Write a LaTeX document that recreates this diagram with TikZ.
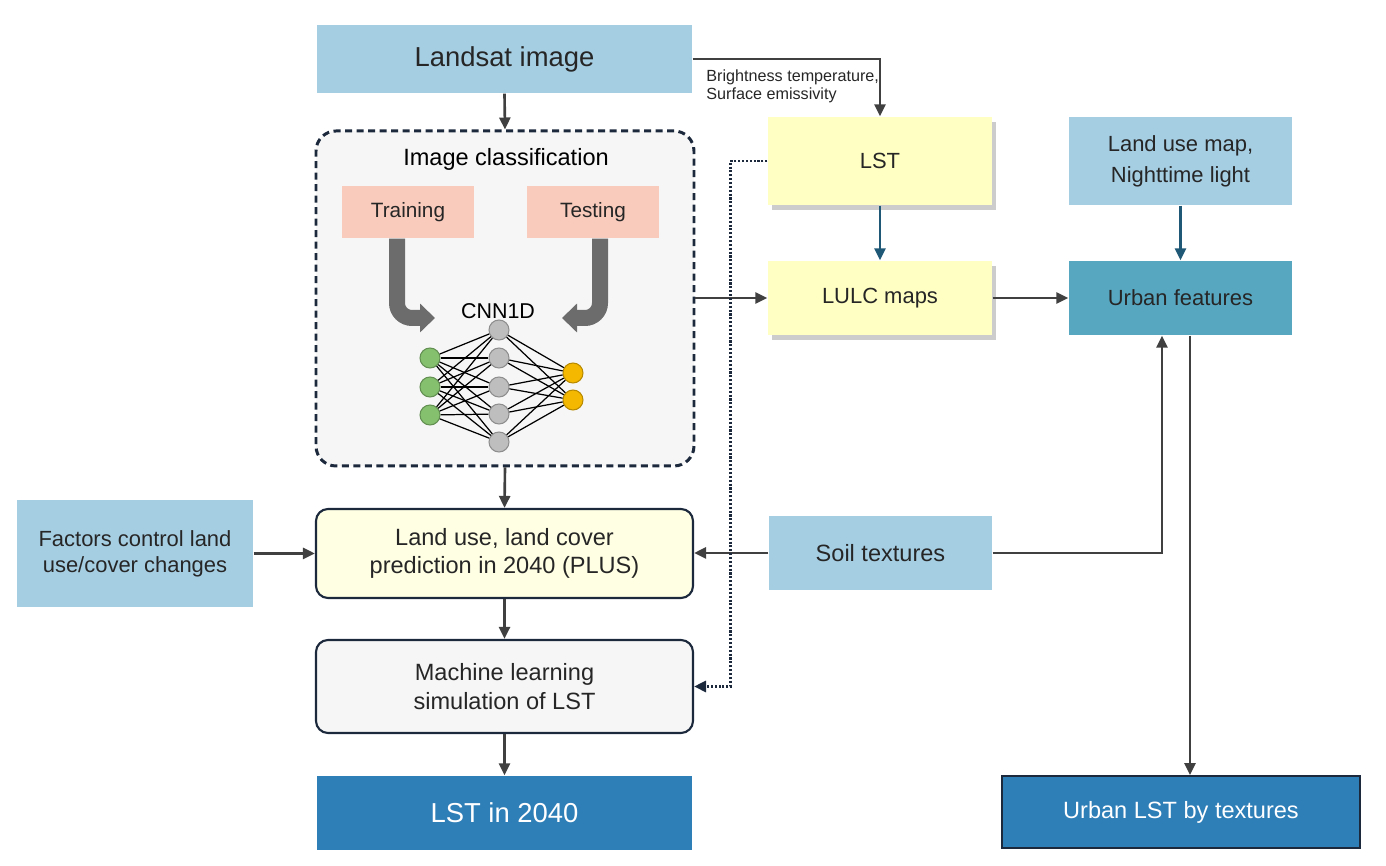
\documentclass[tikz,border=0pt]{standalone}
\usepackage{fontspec}
\setmainfont{Liberation Sans}
\usepackage{xcolor}
\usetikzlibrary{arrows.meta,shadows}
\definecolor{skyblue}{RGB}{166,206,227}
\definecolor{salmon}{RGB}{248,203,188}
\definecolor{paleyellow}{RGB}{255,255,196}
\definecolor{creamy}{RGB}{255,255,228}
\definecolor{panelgray}{RGB}{246,246,246}
\definecolor{tealbox}{RGB}{88,167,192}
\definecolor{deepblue}{RGB}{46,126,184}
\definecolor{arrowgray}{RGB}{64,64,64}
\definecolor{tealarrow}{RGB}{30,88,118}
\definecolor{navy}{RGB}{28,40,60}
\definecolor{neurongreen}{RGB}{132,192,110}
\definecolor{neurongray}{RGB}{190,190,190}
\definecolor{neuronorange}{RGB}{245,184,0}

\newcommand{\bigtxt}{\fontsize{7.8}{9.4}\selectfont}
\newcommand{\normtxt}{\fontsize{6.7}{8.2}\selectfont}
\newcommand{\sidetxt}{\fontsize{6.25}{8.8}\selectfont}
\newcommand{\factxt}{\fontsize{6.25}{7.4}\selectfont}
\newcommand{\labtxt}{\fontsize{5.9}{7}\selectfont}
\newcommand{\tinytxt}{\fontsize{4.6}{5.2}\selectfont}

\tikzset{
  box/.style={rectangle, inner sep=0pt, align=center, font=\normtxt, text=black!85},
  flatbox/.style={box, fill=#1},
  roundbox/.style={box, rounded corners=1.2mm, draw=navy, line width=0.6pt, fill=#1},
  shade box/.style={drop shadow={shadow xshift=0.4mm, shadow yshift=-0.5mm, fill=black, opacity=0.2}},
  arr/.style={-{Triangle[length=1.2mm,width=1.1mm]}, line width=0.75pt, draw=arrowgray},
  tealarr/.style={arr, draw=tealarrow},
  dotarr/.style={-{Triangle[length=1.2mm,width=1.1mm]}, line width=0.8pt, draw=navy, dash pattern=on 0.6pt off 0.5pt},
  bigarr/.style={-{Triangle[length=1.5mm,width=2.8mm]}, line width=1.6mm, draw=gray!85!black, rounded corners=1.5mm},
  neuron/.style={circle, minimum size=2mm, inner sep=0pt, fill=#1, draw=#1!75!black, line width=0.3pt},
}

\begin{document}
\begin{tikzpicture}[x=0.1mm, y=-0.1mm]
    \useasboundingbox (0,0) rectangle (1386,866);

    % Input image
    \node[flatbox=skyblue, minimum width=37.5mm, minimum height=6.8mm, font=\bigtxt] (land) at (504.5,59) {Landsat image};

    % Classification panel
    \node[draw=navy, dash pattern=on 0.7mm off 0.45mm, line width=0.85pt, rounded corners=2mm,
          fill=panelgray, minimum width=37.8mm, minimum height=33.5mm] (cls) at (505,298.5) {};
    \node[font=\normtxt] (clstitle) at (506,159) {Image classification};
    \node[flatbox=salmon, font=\labtxt, minimum width=13.2mm, minimum height=5.2mm] (train) at (408,212) {Training};
    \node[flatbox=salmon, font=\labtxt, minimum width=13.2mm, minimum height=5.2mm] (test) at (593,212) {Testing};
    \node[font=\fontsize{6.1}{7}\selectfont] (cnn) at (498,311) {CNN1D};

    % Network
    \foreach \i/\y in {1/358,2/387,3/415}
        \node[neuron=neurongreen] (in\i) at (430,\y) {};
    \foreach \i/\y in {1/330,2/358,3/387,4/414,5/442}
        \node[neuron=neurongray] (hd\i) at (499,\y) {};
    \foreach \i/\y in {1/373,2/400}
        \node[neuron=neuronorange] (out\i) at (573,\y) {};
    \foreach \i in {1,...,3}
        \foreach \j in {1,...,5}
            \draw[line width=0.35pt] (in\i) -- (hd\j);
    \foreach \j in {1,...,5}
        \foreach \k in {1,2}
            \draw[line width=0.35pt] (hd\j) -- (out\k);

    % Thick arrows into the network
    \coordinate (trainin) at (435,318);
    \coordinate (testin) at (562,318);
    \draw[bigarr] ([xshift=-1.1mm]train.south) |- (trainin);
    \draw[bigarr] ([xshift=0.7mm]test.south) |- (testin);

    % Right column
    \node[flatbox=paleyellow, shade box, font=\sidetxt, minimum width=22.4mm, minimum height=8.8mm] (lst) at (880,161) {LST};
    \node[flatbox=paleyellow, shade box, font=\sidetxt, minimum width=22.4mm, minimum height=7.4mm] (lulc) at (880,298) {LULC maps};
    \node[flatbox=skyblue, font=\sidetxt, minimum width=22.3mm, minimum height=8.8mm] (lum) at (1180.5,161) {Land use map,\\Nighttime light};
    \node[flatbox=tealbox, font=\sidetxt, minimum width=22.3mm, minimum height=7.4mm] (urban) at (1180.5,298) {Urban features};
    \node[flatbox=skyblue, minimum width=22.3mm, minimum height=7.4mm] (soil) at (880.5,553) {Soil textures};

    % Prediction chain
    \node[flatbox=skyblue, font=\factxt, minimum width=23.6mm, minimum height=10.7mm] (fac) at (135,553.5) {Factors control land\\use/cover changes};
    \node[roundbox=creamy, minimum width=37.7mm, minimum height=8.9mm] (pred) at (504.5,553.5) {Land use, land cover\\prediction in 2040 (PLUS)};
    \node[roundbox=panelgray, minimum width=37.7mm, minimum height=9.3mm] (ml) at (504.5,686.5) {Machine learning\\simulation of LST};

    % Outputs
    \node[flatbox=deepblue, text=white, font=\bigtxt, minimum width=37.5mm, minimum height=7.4mm] (lst40) at (504.5,813) {LST in 2040};
    \node[flatbox=deepblue, draw=navy, line width=0.5pt, text=white, minimum width=35.8mm, minimum height=7.2mm] (ulst) at (1181,812) {Urban LST by textures};

    % Connectors
    \draw[arr] (land.south) -- (cls.north);
    \draw[arr] (land.east) -| (lst.north);
    \node[anchor=west, align=left, font=\tinytxt, text=black!85] (btlabel) at (694,86) {Brightness temperature,\\Surface emissivity};
    \draw[tealarr] (lst.south) -- (lulc.north);
    \draw[tealarr] (lum.south) -- (urban.north);
    \draw[arr] (cls.east |- lulc) -- (lulc.west);
    \draw[arr] (lulc.east) -- (urban.west);
    \draw[arr] (soil.east) -| ([xshift=-1.85mm]urban.south);
    \draw[arr] ([xshift=0.95mm]urban.south) -- ([xshift=0.95mm]urban.south |- ulst.north);
    \draw[arr] (soil.west) -- (pred.east |- soil);
    \draw[arr] (fac.east) -- (pred.west);
    \draw[arr] (cls.south) -- (pred.north);
    \draw[arr] (pred.south) -- (ml.north);
    \draw[arr] (ml.south) -- (lst40.north);
    \draw[dotarr] (lst.west) -- ++(-3.7mm,0) |- (ml.east);
\end{tikzpicture}
\end{document}
